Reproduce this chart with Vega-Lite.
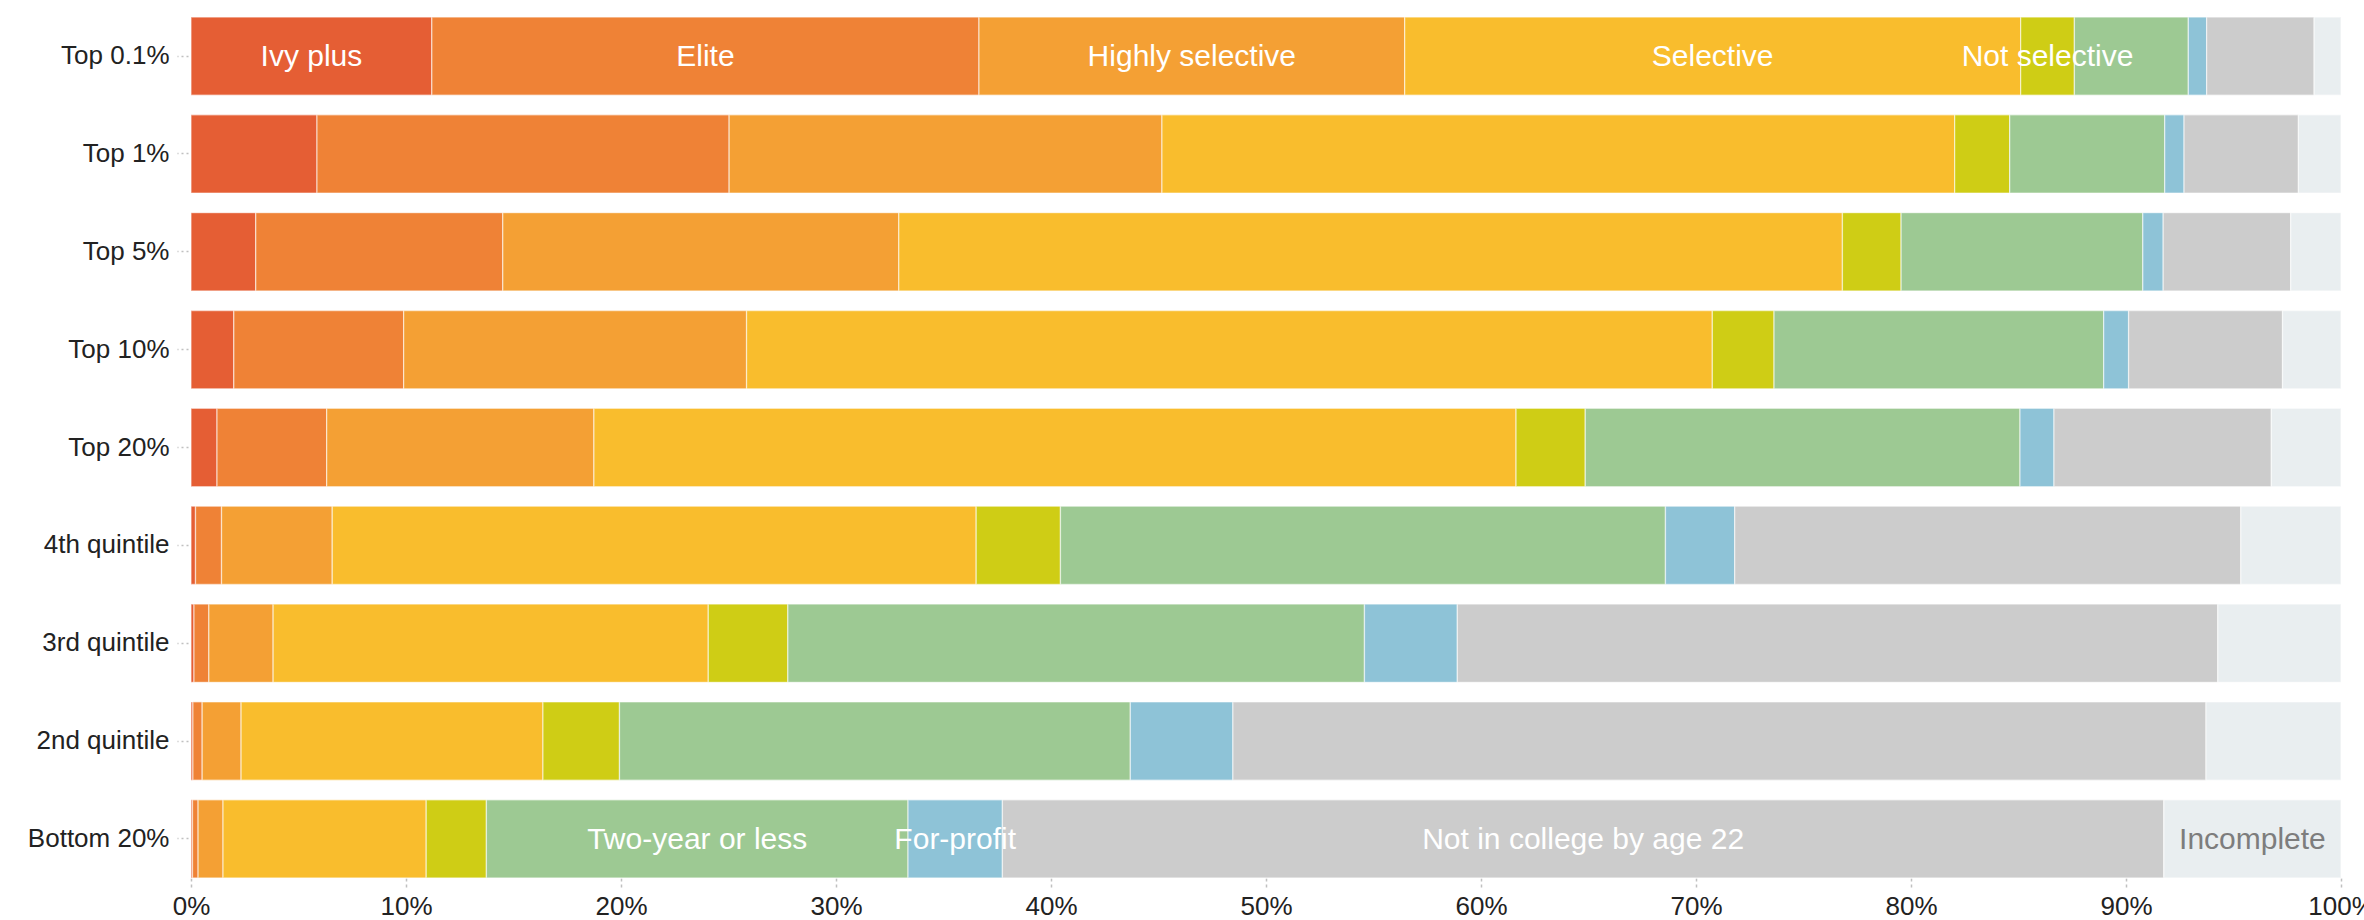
{
  "$schema": "https://vega.github.io/schema/vega-lite/v6.json",
  "width": 2150,
  "height": 861,
  "autosize": {"type": "none"},
  "padding": {"left": 191, "top": 17, "right": 23, "bottom": 42},
  "background": "#ffffff",
  "config": {"view": {"stroke": null}, "font": "Liberation Sans"},
  "data": {
    "values": [
      {"group": "Top 0.1%", "cat": "Ivy plus", "o": 1, "v": 11.2},
      {"group": "Top 0.1%", "cat": "Elite", "o": 2, "v": 25.45},
      {"group": "Top 0.1%", "cat": "Highly selective", "o": 3, "v": 19.8},
      {"group": "Top 0.1%", "cat": "Selective", "o": 4, "v": 28.65},
      {"group": "Top 0.1%", "cat": "Not selective", "o": 5, "v": 2.5},
      {"group": "Top 0.1%", "cat": "Two-year or less", "o": 6, "v": 5.3},
      {"group": "Top 0.1%", "cat": "For-profit", "o": 7, "v": 0.85},
      {"group": "Top 0.1%", "cat": "Not in college by age 22", "o": 8, "v": 5.0},
      {"group": "Top 0.1%", "cat": "Incomplete", "o": 9, "v": 1.25},

      {"group": "Top 1%", "cat": "Ivy plus", "o": 1, "v": 5.86},
      {"group": "Top 1%", "cat": "Elite", "o": 2, "v": 19.17},
      {"group": "Top 1%", "cat": "Highly selective", "o": 3, "v": 20.13},
      {"group": "Top 1%", "cat": "Selective", "o": 4, "v": 36.87},
      {"group": "Top 1%", "cat": "Not selective", "o": 5, "v": 2.56},
      {"group": "Top 1%", "cat": "Two-year or less", "o": 6, "v": 7.21},
      {"group": "Top 1%", "cat": "For-profit", "o": 7, "v": 0.9},
      {"group": "Top 1%", "cat": "Not in college by age 22", "o": 8, "v": 5.32},
      {"group": "Top 1%", "cat": "Incomplete", "o": 9, "v": 1.98},

      {"group": "Top 5%", "cat": "Ivy plus", "o": 1, "v": 3.01},
      {"group": "Top 5%", "cat": "Elite", "o": 2, "v": 11.49},
      {"group": "Top 5%", "cat": "Highly selective", "o": 3, "v": 18.42},
      {"group": "Top 5%", "cat": "Selective", "o": 4, "v": 43.89},
      {"group": "Top 5%", "cat": "Not selective", "o": 5, "v": 2.73},
      {"group": "Top 5%", "cat": "Two-year or less", "o": 6, "v": 11.24},
      {"group": "Top 5%", "cat": "For-profit", "o": 7, "v": 0.95},
      {"group": "Top 5%", "cat": "Not in college by age 22", "o": 8, "v": 5.93},
      {"group": "Top 5%", "cat": "Incomplete", "o": 9, "v": 2.34},

      {"group": "Top 10%", "cat": "Ivy plus", "o": 1, "v": 1.99},
      {"group": "Top 10%", "cat": "Elite", "o": 2, "v": 7.9},
      {"group": "Top 10%", "cat": "Highly selective", "o": 3, "v": 15.95},
      {"group": "Top 10%", "cat": "Selective", "o": 4, "v": 44.92},
      {"group": "Top 10%", "cat": "Not selective", "o": 5, "v": 2.87},
      {"group": "Top 10%", "cat": "Two-year or less", "o": 6, "v": 15.33},
      {"group": "Top 10%", "cat": "For-profit", "o": 7, "v": 1.16},
      {"group": "Top 10%", "cat": "Not in college by age 22", "o": 8, "v": 7.16},
      {"group": "Top 10%", "cat": "Incomplete", "o": 9, "v": 2.72},

      {"group": "Top 20%", "cat": "Ivy plus", "o": 1, "v": 1.21},
      {"group": "Top 20%", "cat": "Elite", "o": 2, "v": 5.1},
      {"group": "Top 20%", "cat": "Highly selective", "o": 3, "v": 12.43},
      {"group": "Top 20%", "cat": "Selective", "o": 4, "v": 42.89},
      {"group": "Top 20%", "cat": "Not selective", "o": 5, "v": 3.22},
      {"group": "Top 20%", "cat": "Two-year or less", "o": 6, "v": 20.22},
      {"group": "Top 20%", "cat": "For-profit", "o": 7, "v": 1.58},
      {"group": "Top 20%", "cat": "Not in college by age 22", "o": 8, "v": 10.11},
      {"group": "Top 20%", "cat": "Incomplete", "o": 9, "v": 3.24},

      {"group": "4th quintile", "cat": "Ivy plus", "o": 1, "v": 0.21},
      {"group": "4th quintile", "cat": "Elite", "o": 2, "v": 1.21},
      {"group": "4th quintile", "cat": "Highly selective", "o": 3, "v": 5.15},
      {"group": "4th quintile", "cat": "Selective", "o": 4, "v": 29.95},
      {"group": "4th quintile", "cat": "Not selective", "o": 5, "v": 3.92},
      {"group": "4th quintile", "cat": "Two-year or less", "o": 6, "v": 28.14},
      {"group": "4th quintile", "cat": "For-profit", "o": 7, "v": 3.22},
      {"group": "4th quintile", "cat": "Not in college by age 22", "o": 8, "v": 23.54},
      {"group": "4th quintile", "cat": "Incomplete", "o": 9, "v": 4.66},

      {"group": "3rd quintile", "cat": "Ivy plus", "o": 1, "v": 0.14},
      {"group": "3rd quintile", "cat": "Elite", "o": 2, "v": 0.69},
      {"group": "3rd quintile", "cat": "Highly selective", "o": 3, "v": 2.99},
      {"group": "3rd quintile", "cat": "Selective", "o": 4, "v": 20.24},
      {"group": "3rd quintile", "cat": "Not selective", "o": 5, "v": 3.7},
      {"group": "3rd quintile", "cat": "Two-year or less", "o": 6, "v": 26.82},
      {"group": "3rd quintile", "cat": "For-profit", "o": 7, "v": 4.32},
      {"group": "3rd quintile", "cat": "Not in college by age 22", "o": 8, "v": 35.37},
      {"group": "3rd quintile", "cat": "Incomplete", "o": 9, "v": 5.73},

      {"group": "2nd quintile", "cat": "Ivy plus", "o": 1, "v": 0.09},
      {"group": "2nd quintile", "cat": "Elite", "o": 2, "v": 0.43},
      {"group": "2nd quintile", "cat": "Highly selective", "o": 3, "v": 1.81},
      {"group": "2nd quintile", "cat": "Selective", "o": 4, "v": 14.04},
      {"group": "2nd quintile", "cat": "Not selective", "o": 5, "v": 3.56},
      {"group": "2nd quintile", "cat": "Two-year or less", "o": 6, "v": 23.76},
      {"group": "2nd quintile", "cat": "For-profit", "o": 7, "v": 4.77},
      {"group": "2nd quintile", "cat": "Not in college by age 22", "o": 8, "v": 45.26},
      {"group": "2nd quintile", "cat": "Incomplete", "o": 9, "v": 6.28},

      {"group": "Bottom 20%", "cat": "Ivy plus", "o": 1, "v": 0.07},
      {"group": "Bottom 20%", "cat": "Elite", "o": 2, "v": 0.26},
      {"group": "Bottom 20%", "cat": "Highly selective", "o": 3, "v": 1.16},
      {"group": "Bottom 20%", "cat": "Selective", "o": 4, "v": 9.45},
      {"group": "Bottom 20%", "cat": "Not selective", "o": 5, "v": 2.8},
      {"group": "Bottom 20%", "cat": "Two-year or less", "o": 6, "v": 19.61},
      {"group": "Bottom 20%", "cat": "For-profit", "o": 7, "v": 4.39},
      {"group": "Bottom 20%", "cat": "Not in college by age 22", "o": 8, "v": 54.02},
      {"group": "Bottom 20%", "cat": "Incomplete", "o": 9, "v": 8.24}
    ]
  },
  "transform": [
    {"stack": "v", "groupby": ["group"], "sort": [{"field": "o", "order": "ascending"}], "as": ["x0", "x1"]},
    {"calculate": "(datum.x0 + datum.x1) / 2", "as": "xm"}
  ],
  "encoding": {
    "y": {
      "field": "group",
      "type": "nominal",
      "sort": ["Top 0.1%", "Top 1%", "Top 5%", "Top 10%", "Top 20%", "4th quintile", "3rd quintile", "2nd quintile", "Bottom 20%"],
      "scale": {"paddingInner": 0.2, "paddingOuter": 0},
      "axis": {
        "title": null,
        "domain": false,
        "ticks": true,
        "tickSize": 11,
        "tickDash": [2, 3],
        "tickColor": "#c0c0c0",
        "tickWidth": 1.5,
        "offset": 3,
        "labelPadding": 8,
        "labelFontSize": 26,
        "labelColor": "#222222",
        "labelFont": "Liberation Sans"
      }
    }
  },
  "layer": [
    {
      "mark": {"type": "bar", "stroke": "#ffffff", "strokeWidth": 1.3, "strokeOpacity": 0.55},
      "encoding": {
        "x": {
          "field": "x0",
          "type": "quantitative",
          "scale": {"domain": [0, 100], "nice": false},
          "axis": {
            "title": null,
            "values": [0, 10, 20, 30, 40, 50, 60, 70, 80, 90, 100],
            "labelExpr": "datum.value + '%'",
            "grid": false,
            "domain": false,
            "tickSize": 12,
            "tickDash": [3, 3],
            "tickColor": "#c0c0c0",
            "tickWidth": 1.5,
            "labelPadding": 3,
            "labelFontSize": 26,
            "labelColor": "#222222",
            "labelFont": "Liberation Sans",
            "labelOverlap": false,
            "labelFlush": false,
            "labelBound": false
          }
        },
        "x2": {"field": "x1"},
        "color": {
          "field": "cat",
          "type": "nominal",
          "legend": null,
          "scale": {
            "domain": ["Ivy plus", "Elite", "Highly selective", "Selective", "Not selective", "Two-year or less", "For-profit", "Not in college by age 22", "Incomplete"],
            "range": ["#e55e34", "#ef8236", "#f4a034", "#f9bd2d", "#cfcd15", "#9dc993", "#8ec3d7", "#cccccc", "#e9eef0"]
          }
        }
      }
    },
    {
      "transform": [
        {"filter": "(datum.group == 'Top 0.1%' && datum.o <= 5) || (datum.group == 'Bottom 20%' && datum.o >= 6)"}
      ],
      "mark": {"type": "text", "fontSize": 30, "align": "center", "baseline": "middle", "font": "Liberation Sans", "dy": 1},
      "encoding": {
        "x": {"field": "xm", "type": "quantitative"},
        "text": {"field": "cat"},
        "color": {"condition": {"test": "datum.cat == 'Incomplete'", "value": "#7d7d7d"}, "value": "#ffffff"}
      }
    }
  ]
}
